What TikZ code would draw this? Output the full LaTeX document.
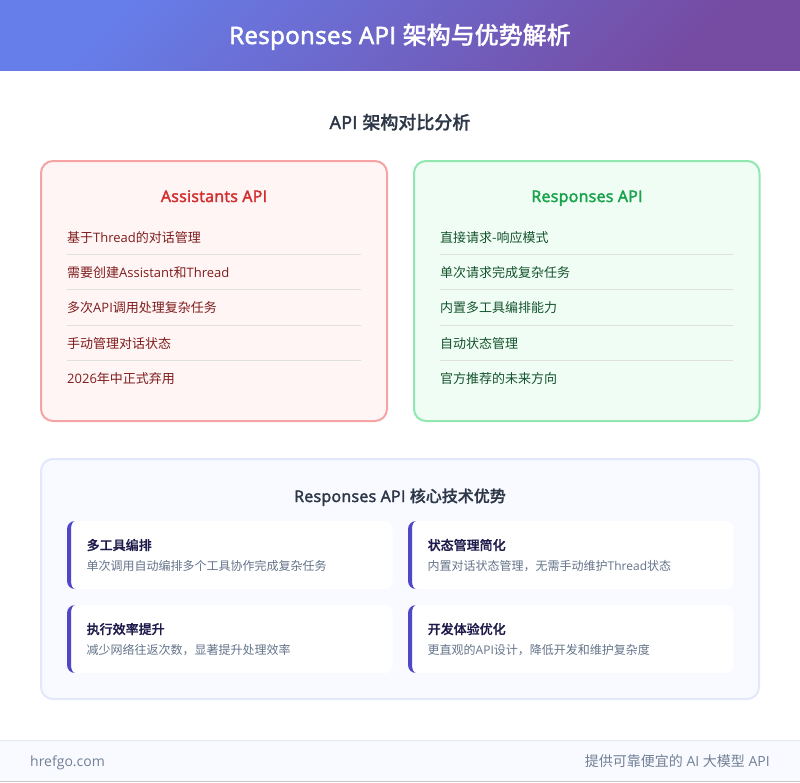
\documentclass[tikz,border=0pt]{standalone}
\usepackage{fontspec}
\setmainfont{Open Sans}[BoldFont={Open Sans},BoldFeatures={FakeBold=2.4,LetterSpace=1.6}]
\newfontfamily\zhfont{Noto Sans CJK SC}[BoldFont={Noto Sans CJK SC Medium},BoldFeatures={FakeBold=.8}]
\newcommand{\zh}[1]{{\zhfont #1}}
\newcommand{\pxfont}[1]{\fontsize{#1}{#1}\selectfont}
\definecolor{headL}{HTML}{667EEA}
\definecolor{headR}{HTML}{764BA2}
\definecolor{inkdark}{HTML}{2D3748}
\definecolor{inkgray}{HTML}{64748B}
\definecolor{footgray}{HTML}{718096}
\definecolor{redbg}{HTML}{FFF5F5}
\definecolor{redline}{HTML}{F5A3A3}
\definecolor{redhead}{HTML}{D32F2F}
\definecolor{reditem}{HTML}{7F1D1D}
\definecolor{greenbg}{HTML}{F0FDF4}
\definecolor{greenline}{HTML}{90E8B0}
\definecolor{greenhead}{HTML}{16A34A}
\definecolor{greenitem}{HTML}{14532D}
\definecolor{panelbg}{HTML}{F8FAFF}
\definecolor{panelline}{HTML}{E2E8FA}
\definecolor{accent}{HTML}{4F46C8}
\definecolor{cardhead}{HTML}{1E1B4B}
\definecolor{footline}{HTML}{E2E8F0}
\tikzset{
	apibox/.style={line width=2pt, rounded corners=12pt},
	cardhd/.style={anchor=base, font=\pxfont{16}\bfseries},
	listitem/.style={anchor=base west, inner sep=0pt, font=\pxfont{13}},
	sepline/.style={line width=.8pt, black!12},
	cardtitle/.style={anchor=base west, inner sep=0pt, text=cardhead, font=\pxfont{13}\bfseries},
	carddesc/.style={anchor=base west, inner sep=0pt, text=inkgray, font=\pxfont{12}},
}
\begin{document}
\begin{tikzpicture}[x=1pt, y=-1pt, line join=round, line cap=round]
	\useasboundingbox (0,0) rectangle (800,782);
	% header
	\shade[shading=axis, top color=headL, bottom color=headR, shading angle=45] (0,0) rectangle (800,70);
	\node[anchor=base, text=white, font=\pxfont{24}\bfseries] (title) at (400,44) {Responses API \zh{架构与优势解析}};
	\node[anchor=base, text=inkdark, font=\pxfont{18}\bfseries] (subtitle) at (400,129) {API \zh{架构对比分析}};
	% two boxes
	\draw[apibox, fill=redbg, draw=redline] (41,161) rectangle (387,421);
	\draw[apibox, fill=greenbg, draw=greenline] (414,161) rectangle (759.5,421);
	\node[cardhd, text=redhead] (oldhd) at (214,202) {Assistants API};
	\node[cardhd, text=greenhead] (newhd) at (587,202) {Responses API};
	\foreach \n/\y/\t in {1/242/{\zh{基于}Thread\zh{的对话管理}},2/277/{\zh{需要创建}Assistant\zh{和}Thread},3/312/{\zh{多次}API\zh{调用处理复杂任务}},4/348/{\zh{手动管理对话状态}},5/383/{2026\zh{年中正式弃用}}}{
		\node[listitem, text=reditem] (old\n) at (67,\y) {\t};}
	\foreach \n/\y/\t in {1/242/{\zh{直接请求-响应模式}},2/277/{\zh{单次请求完成复杂任务}},3/312/{\zh{内置多工具编排能力}},4/348/{\zh{自动状态管理}},5/383/{\zh{官方推荐的未来方向}}}{
		\node[listitem, text=greenitem] (new\n) at (440,\y) {\t};}
	\foreach \y in {254.5,289.5,325,360}{
		\draw[sepline] (67,\y) -- (361,\y);
		\draw[sepline] (440,\y) -- (733,\y);}
	% lower panel
	\draw[line width=2pt, rounded corners=12pt, fill=panelbg, draw=panelline] (41,459) rectangle (759,699);
	\node[cardhd, text=inkdark] (panelhd) at (400,502) {Responses API \zh{核心技术优势}};
	\foreach \n/\x/\y/\a/\b in {
		a/67/521/{\zh{多工具编排}}/{\zh{单次调用自动编排多个工具协作完成复杂任务}},
		b/408/521/{\zh{状态管理简化}}/{\zh{内置对话状态管理，无需手动维护}Thread\zh{状态}},
		c/67/605/{\zh{执行效率提升}}/{\zh{减少网络往返次数，显著提升处理效率}},
		d/408/605/{\zh{开发体验优化}}/{\zh{更直观的}API\zh{设计，降低开发和维护复杂度}}}{
		\begin{scope}[shift={(\x,\y)}]
			\fill[white, rounded corners=8pt] (0,0) rectangle (325.5,68);
			\fill[accent] (8,0) .. controls (3.6,0) and (0,3.6) .. (0,8) -- (0,60) .. controls (0,64.4) and (3.6,68) .. (8,68)
				.. controls (5.8,68) and (4,64.4) .. (4,60) -- (4,8) .. controls (4,3.6) and (5.8,0) .. (8,0) -- cycle;
			\node[cardtitle] (\n hd) at (19.5,29) {\a};
			\node[carddesc] (\n tx) at (19.5,49.5) {\b};
		\end{scope}}
	% footer
	\fill[panelbg] (0,740) rectangle (800,782);
	\draw[footline, line width=1pt] (0,740.5) -- (800,740.5);
	\draw[black!22, line width=1pt] (0,781.5) -- (800,781.5);
	\node[anchor=base west, inner sep=0pt, text=footgray, font=\pxfont{14}] (site) at (30,766) {hrefgo.com};
	\node[anchor=base east, inner sep=0pt, text=footgray, font=\pxfont{14}] (slogan) at (770,766) {\zh{提供可靠便宜的} AI \zh{大模型} API};
\end{tikzpicture}
\end{document}
